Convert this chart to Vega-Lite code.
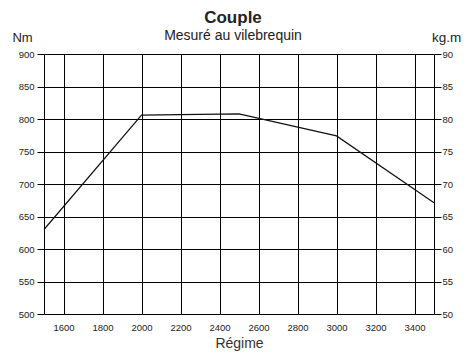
{
  "$schema": "https://vega.github.io/schema/vega-lite/v6.json",
  "width": 390,
  "height": 260,
  "autosize": "none",
  "padding": {"left": 44, "top": 54, "right": 38, "bottom": 49},
  "background": "white",
  "config": {
    "font": "Liberation Sans",
    "view": {"stroke": null},
    "axis": {"labelFont": "Liberation Sans", "titleFont": "Liberation Sans"}
  },
  "title": {
    "text": "Couple",
    "subtitle": "Mesuré au vilebrequin",
    "fontSize": 17,
    "fontWeight": "bold",
    "color": "#222",
    "subtitleFontSize": 14,
    "subtitleColor": "#222",
    "subtitlePadding": 2,
    "anchor": "middle",
    "dx": -6,
    "offset": -14
  },
  "data": {
    "values": [
      {"regime": 1500, "couple": 630},
      {"regime": 2000, "couple": 806},
      {"regime": 2500, "couple": 808},
      {"regime": 3000, "couple": 774},
      {"regime": 3500, "couple": 671}
    ]
  },
  "layer": [
    {
      "mark": {"type": "line", "color": "#111", "strokeWidth": 1.2},
      "encoding": {
        "x": {
          "field": "regime", "type": "quantitative",
          "scale": {"domain": [1500, 3500], "nice": false, "zero": false},
          "axis": {
            "values": [1600, 1800, 2000, 2200, 2400, 2600, 2800, 3000, 3200, 3400],
            "format": "d",
            "title": "Régime", "titleFontSize": 14, "titleFontWeight": "normal", "titleColor": "#333", "titlePadding": 5,
            "labelFontSize": 9.5, "labelColor": "#222", "labelPadding": 8,
            "ticks": false, "domainColor": "#000", "domainWidth": 1,
            "gridColor": "#000", "gridOpacity": 1, "gridWidth": 1
          }
        },
        "y": {
          "field": "couple", "type": "quantitative",
          "scale": {"domain": [500, 900], "nice": false, "zero": false},
          "axis": {
            "values": [500, 550, 600, 650, 700, 750, 800, 850, 900],
            "title": "Nm", "titleAngle": 0, "titleX": -22, "titleY": -13, "titleAlign": "center", "titleBaseline": "alphabetic",
            "titleFontSize": 13, "titleFontWeight": "normal", "titleColor": "#222",
            "labelFontSize": 9.5, "labelColor": "#222", "labelPadding": 3,
            "tickSize": 7, "tickColor": "#000", "domainColor": "#000",
            "gridColor": "#000", "gridOpacity": 1, "gridWidth": 1
          }
        }
      }
    },
    {
      "mark": {"type": "line", "opacity": 0},
      "encoding": {
        "x": {"field": "regime", "type": "quantitative", "scale": {"domain": [1500, 3500], "nice": false, "zero": false}},
        "y": {
          "field": "couple", "type": "quantitative",
          "scale": {"domain": [500, 900], "nice": false, "zero": false},
          "axis": {
            "orient": "right",
            "values": [500, 550, 600, 650, 700, 750, 800, 850, 900],
            "labelExpr": "format(datum.value/10, 'd')",
            "title": "kg.m", "titleAngle": 0, "titleX": 12, "titleY": -13, "titleAlign": "center", "titleBaseline": "alphabetic",
            "titleFontSize": 13.5, "titleFontWeight": "normal", "titleColor": "#222",
            "labelFontSize": 9.5, "labelColor": "#222", "labelPadding": 1,
            "tickSize": 7, "tickColor": "#000", "domainColor": "#000",
            "grid": false
          }
        }
      }
    }
  ],
  "resolve": {"scale": {"y": "independent"}}
}
